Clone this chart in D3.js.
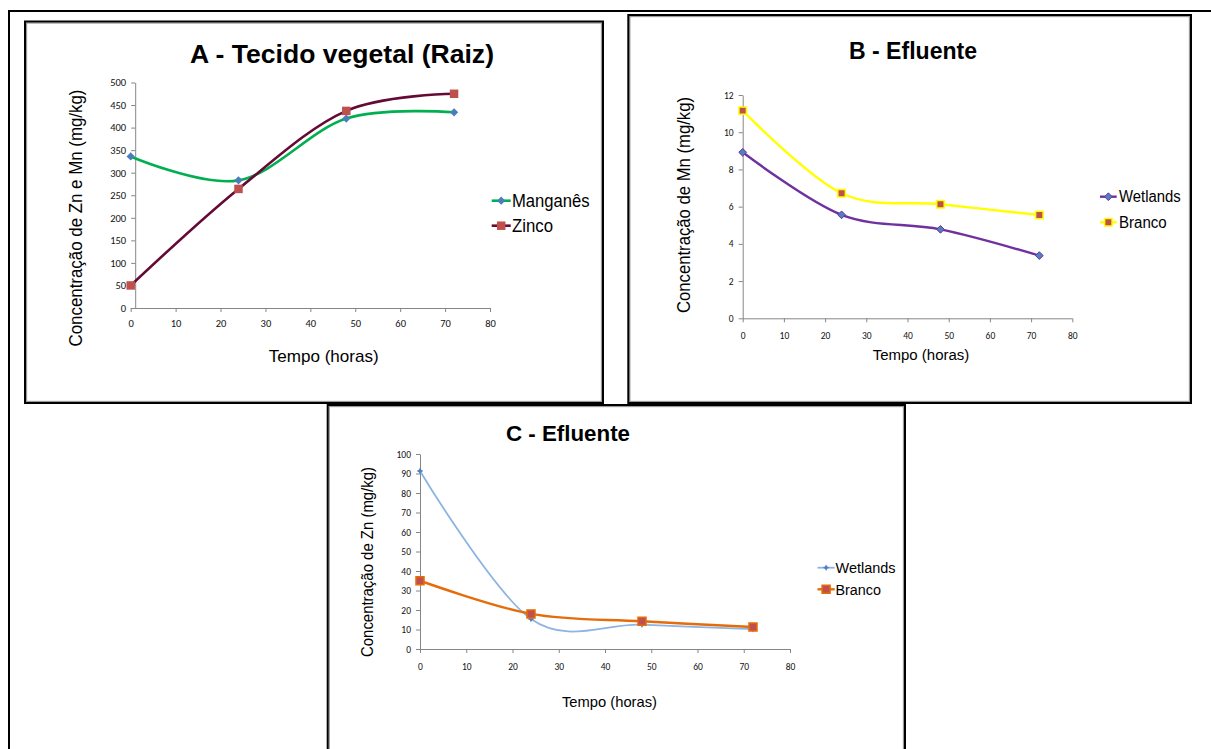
<!DOCTYPE html>
<html>
<head>
<meta charset="utf-8">
<script src="https://cdn.jsdelivr.net/npm/d3@7"></script>
<style>
  html, body { margin: 0; padding: 0; background: #fff; }
  svg { display: block; }
  text { font-family: "Liberation Sans", Arial, sans-serif; fill: #000; }
  .tick-label { font-family: Carlito, "Liberation Sans Narrow", "Liberation Sans", Arial, sans-serif; fill: #111; }
</style>
</head>
<body>
<svg id="fig" width="1211" height="749"></svg>
<script>
// Tempo de coleta (horas)
const horas = [0, 24, 48, 72];

// A - Tecido vegetal (Raiz), mg/kg
const manganesRaiz = [336, 283, 420, 434];
const zincoRaiz = [50, 264, 437, 475];

// B - Efluente, Mn (mg/kg)
const wetlandsMn = [8.92, 5.56, 4.78, 3.37];
const brancoMn = [11.16, 6.72, 6.13, 5.55];

// C - Efluente, Zn (mg/kg)
const wetlandsZn = [91.3, 15.4, 12.5, 10.2];
const brancoZn = [35, 18, 14.2, 11.3];

// Tick labels
const xTicks = [0, 10, 20, 30, 40, 50, 60, 70, 80];
const yTicksA = [0, 50, 100, 150, 200, 250, 300, 350, 400, 450, 500];
const yTicksB = [0, 2, 4, 6, 8, 10, 12];
const yTicksC = [0, 10, 20, 30, 40, 50, 60, 70, 80, 90, 100];

const svg = d3.select("#fig");

// Square-diamond marker (rotated square)
const symDiamond = {
  draw(ctx, size) {
    const r = Math.sqrt(size / 2);
    ctx.moveTo(0, -r); ctx.lineTo(r, 0); ctx.lineTo(0, r); ctx.lineTo(-r, 0); ctx.closePath();
  }
};
// Small star-like marker
const symStar = {
  draw(ctx, size) {
    const r = Math.sqrt(size) / 2;
    ctx.moveTo(0, -r); ctx.lineTo(r * 0.35, -r * 0.35); ctx.lineTo(r, 0); ctx.lineTo(r * 0.35, r * 0.35);
    ctx.lineTo(0, r); ctx.lineTo(-r * 0.35, r * 0.35); ctx.lineTo(-r, 0); ctx.lineTo(-r * 0.35, -r * 0.35);
    ctx.closePath();
  }
};

// ---- Frames (table borders and chart boxes) ----
const frames = svg.append("g");
frames.append("line").attr("x1", 8).attr("x2", 1211).attr("y1", 11).attr("y2", 11)
  .attr("stroke", "#000").attr("stroke-width", 2);
frames.append("line").attr("x1", 9).attr("x2", 9).attr("y1", 10).attr("y2", 749)
  .attr("stroke", "#000").attr("stroke-width", 2);

function box(x0, y0, x1, y1) {
  frames.append("rect").attr("x", x0 + 1.5).attr("y", y0 + 1.5)
    .attr("width", x1 - x0 - 3).attr("height", y1 - y0 - 3)
    .attr("fill", "none").attr("stroke", "#9a9a9a").attr("stroke-width", 1.3);
  frames.append("rect").attr("x", x0).attr("y", y0)
    .attr("width", x1 - x0).attr("height", y1 - y0)
    .attr("fill", "none").attr("stroke", "#000").attr("stroke-width", 2);
}
box(25, 21.5, 603, 403);
box(628.3, 15, 1191, 403);
box(327.7, 405, 905, 760);

// Condensed text helper: fixed rendered length
function fitText(sel, len) {
  if (len) sel.attr("textLength", len).attr("lengthAdjust", "spacingAndGlyphs");
  return sel;
}

// ---- Generic chart drawer ----
function drawChart(cfg) {
  const g = svg.append("g");
  const x = d3.scaleLinear().domain([0, 80]).range(cfg.xRange);
  const y = d3.scaleLinear().domain(cfg.yDomain).range(cfg.yRange);
  const axisX = x(0) + (cfg.yAxisShift || 0);

  // x axis
  const gx = g.append("g").attr("transform", `translate(0,${y(0)})`)
    .call(d3.axisBottom(x).tickValues(xTicks).tickSize(4).tickSizeOuter(0).tickPadding(cfg.xPad));
  gx.select(".domain").attr("stroke", "#868686").attr("d", `M${x(0)},0.5H${x(80)}`);
  gx.selectAll(".tick line").attr("stroke", "#868686");
  gx.selectAll(".tick text").attr("class", "tick-label").style("font-size", cfg.tickFont + "px");

  // y axis
  const gy = g.append("g").attr("transform", `translate(${axisX},0)`)
    .call(d3.axisLeft(y).tickValues(cfg.yTicks).tickSize(4).tickSizeOuter(0).tickPadding(cfg.yPad));
  gy.select(".domain").attr("stroke", "#868686");
  gy.selectAll(".tick line").attr("stroke", "#868686");
  gy.selectAll(".tick text").attr("class", "tick-label").style("font-size", cfg.tickFont + "px");
  g.selectAll(".tick-label").attr("font-family", null).attr("fill", null);

  // series
  const line = d3.line().x(d => x(d[0])).y(d => y(d[1])).curve(d3.curveCardinal.tension(0));
  cfg.series.forEach(s => {
    const pts = horas.map((h, i) => [h, s.values[i]]);
    g.append("path").datum(pts).attr("d", line)
      .attr("fill", "none").attr("stroke", s.color).attr("stroke-width", s.width)
      .attr("stroke-linejoin", "round").attr("stroke-linecap", "round");
    g.selectAll(null).data(pts).enter().append("path")
      .attr("transform", d => `translate(${x(d[0])},${y(d[1])})`)
      .attr("d", d3.symbol().type(s.symbol).size(s.size))
      .attr("fill", s.fill).attr("stroke", s.stroke || "none").attr("stroke-width", s.strokeWidth || 0);
  });

  // title
  fitText(g.append("text").attr("x", cfg.title.x).attr("y", cfg.title.y).attr("text-anchor", "middle")
    .style("font-size", cfg.title.size + "px").style("font-weight", "bold").text(cfg.title.text), cfg.title.len);

  // y label
  fitText(g.append("text").attr("transform", `translate(${cfg.yLabel.x},${cfg.yLabel.y}) rotate(-90)`)
    .attr("text-anchor", "middle").attr("dominant-baseline", "central")
    .style("font-size", cfg.yLabel.size + "px").text(cfg.yLabel.text), cfg.yLabel.len);

  // x label
  fitText(g.append("text").attr("x", cfg.xLabel.x).attr("y", cfg.xLabel.y).attr("text-anchor", "middle")
    .attr("dominant-baseline", "central").style("font-size", cfg.xLabel.size + "px").text("Tempo (horas)"), cfg.xLabel.len);

  // legend
  const L = cfg.legend;
  cfg.series.forEach((s, i) => {
    const ly = L.y[i];
    g.append("line").attr("x1", L.x0).attr("x2", L.x1).attr("y1", ly).attr("y2", ly)
      .attr("stroke", s.color).attr("stroke-width", s.width);
    g.append("path").attr("transform", `translate(${(L.x0 + L.x1) / 2},${ly})`)
      .attr("d", d3.symbol().type(s.symbol).size(s.size))
      .attr("fill", s.fill).attr("stroke", s.stroke || "none").attr("stroke-width", s.strokeWidth || 0);
    fitText(g.append("text").attr("x", L.tx).attr("y", ly).attr("dominant-baseline", "central")
      .style("font-size", L.size + "px").text(s.name), L.len[i]);
  });
}

// A - Tecido vegetal (Raiz)
drawChart({
  xRange: [130.7, 490], yDomain: [0, 500], yRange: [308, 82.5], yAxisShift: 4.5,
  yTicks: yTicksA, tickFont: 10.5, xPad: 8, yPad: 5,
  title: { text: "A - Tecido vegetal (Raiz)", x: 342, y: 63, size: 26, len: 304 },
  yLabel: { text: "Concentração de Zn e Mn (mg/kg)", x: 75, y: 218, size: 18.5, len: 257 },
  xLabel: { x: 323.7, y: 356, size: 17, len: 110 },
  legend: { x0: 491.7, x1: 510.7, tx: 512, y: [200.7, 225.7], size: 17.5, len: [77.7, 41] },
  series: [
    { name: "Manganês", values: manganesRaiz, color: "#00b050", width: 2.6,
      symbol: symDiamond, size: 34, fill: "#4a7ebb" },
    { name: "Zinco", values: zincoRaiz, color: "#640a34", width: 2.6,
      symbol: d3.symbolSquare, size: 72, fill: "#c0504d" }
  ]
});

// B - Efluente (Mn)
drawChart({
  xRange: [742.7, 1072.3], yDomain: [0, 12], yRange: [318.3, 95],
  yTicks: yTicksB, tickFont: 9.5, xPad: 10, yPad: 5,
  title: { text: "B - Efluente", x: 913, y: 59, size: 23, len: 128 },
  yLabel: { text: "Concentração de Mn (mg/kg)", x: 684, y: 205, size: 18, len: 216 },
  xLabel: { x: 921, y: 354.7, size: 15.5, len: 96.6 },
  legend: { x0: 1100, x1: 1116.7, tx: 1119, y: [196.7, 222.3], size: 16, len: [61.7, 47.7] },
  series: [
    { name: "Wetlands", values: wetlandsMn, color: "#7030a0", width: 2.4,
      symbol: symDiamond, size: 30, fill: "#4f81bd", stroke: "#7030a0", strokeWidth: 1 },
    { name: "Branco", values: brancoMn, color: "#ffff00", width: 2.4,
      symbol: d3.symbolSquare, size: 56, fill: "#c0504d", stroke: "#ffff00", strokeWidth: 1.5 }
  ]
});

// C - Efluente (Zn)
drawChart({
  xRange: [420, 790], yDomain: [0, 100], yRange: [649, 454],
  yTicks: yTicksC, tickFont: 9.5, xPad: 10, yPad: 5,
  title: { text: "C - Efluente", x: 568, y: 441, size: 22.5, len: 124 },
  yLabel: { text: "Concentração de Zn (mg/kg)", x: 367, y: 562, size: 16.5, len: 190 },
  xLabel: { x: 609.5, y: 701, size: 15, len: 95 },
  legend: { x0: 817.5, x1: 834.7, tx: 835.5, y: [567.7, 589.3], size: 15.5, len: [60, 45.5] },
  series: [
    { name: "Wetlands", values: wetlandsZn, color: "#8eb4e3", width: 1.8,
      symbol: symStar, size: 44, fill: "#4f81bd" },
    { name: "Branco", values: brancoZn, color: "#e46c0a", width: 2.4,
      symbol: d3.symbolSquare, size: 64, fill: "#c0504d", stroke: "#e46c0a", strokeWidth: 1.5 }
  ]
});
</script>
</body>
</html>
